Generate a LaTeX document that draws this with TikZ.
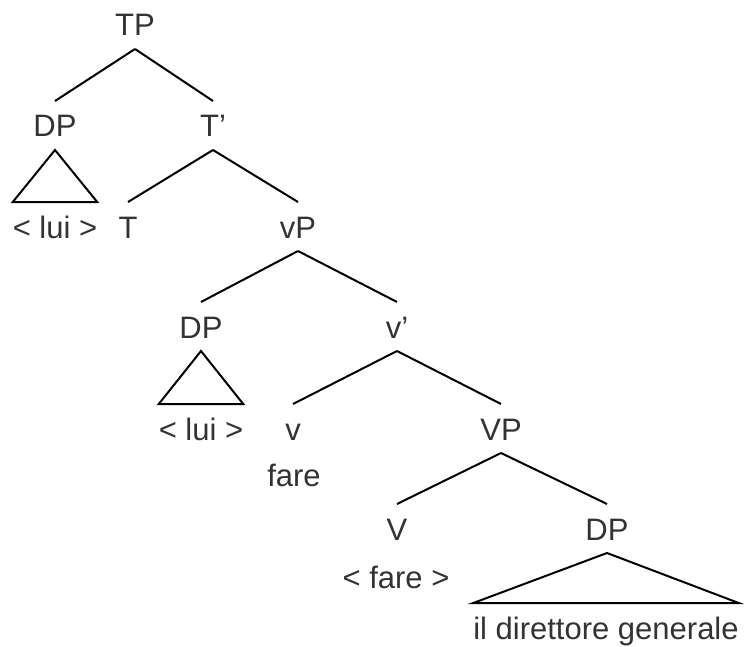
\documentclass[tikz,border=0pt]{standalone}
\usepackage{fontspec}
\setmainfont{Liberation Sans}
\definecolor{labelgray}{HTML}{333333}

\begin{document}
\begin{tikzpicture}[x=1pt, y=-1pt, font=\fontsize{31}{36}\selectfont,
  cat/.style={inner sep=0pt, outer xsep=0pt, outer ysep=13pt,
              text height=23pt, text depth=0pt, anchor=base, text=labelgray},
  branch/.style={line width=2pt, black},
  roof/.style={line width=2pt, black, line join=miter}
]
  \useasboundingbox (0,0) rectangle (749,647);
  % Categories, placed by their baselines
  \node[cat] (tp)    at (135,36)  {TP};
  \node[cat] (dpa)   at (55,137)  {DP};
  \node[cat] (tbar)  at (213,137) {T’};
  \node[cat] (luia)  at (55,238)  {< lui >};
  \node[cat] (t)     at (128,238) {T};
  \node[cat] (vp)    at (298,238) {vP};
  \node[cat] (dpb)   at (201,338) {DP};
  \node[cat] (vbar)  at (397,338) {v’};
  \node[cat] (luib)  at (201,440) {< lui >};
  \node[cat] (v)     at (293,440) {v};
  \node[cat] (bigvp) at (501,440) {VP};
  \node[cat] (fare)  at (294,486) {fare};
  \node[cat] (bigv)  at (397,540) {V};
  \node[cat] (dpc)   at (607,540) {DP};
  \node[cat] (farec) at (396,588) {< fare >};
  \node[cat] (dg)    at (606,639) {il direttore generale};
  % Branches
  \draw[branch] (tp.south)    -- (dpa.north);
  \draw[branch] (tp.south)    -- (tbar.north);
  \draw[branch] (tbar.south)  -- (t.north);
  \draw[branch] (tbar.south)  -- (vp.north);
  \draw[branch] (vp.south)    -- (dpb.north);
  \draw[branch] (vp.south)    -- (vbar.north);
  \draw[branch] (vbar.south)  -- (v.north);
  \draw[branch] (vbar.south)  -- (bigvp.north);
  \draw[branch] (bigvp.south) -- (bigv.north);
  \draw[branch] (bigvp.south) -- (dpc.north);
  % Triangles over unanalysed phrases
  \draw[roof] (dpa.south) -- (luia.north west) -- (luia.north east) -- cycle;
  \draw[roof] (dpb.south) -- (luib.north west) -- (luib.north east) -- cycle;
  \draw[roof] (dpc.south) -- (dg.north west) -- (dg.north east) -- cycle;
\end{tikzpicture}
\end{document}
